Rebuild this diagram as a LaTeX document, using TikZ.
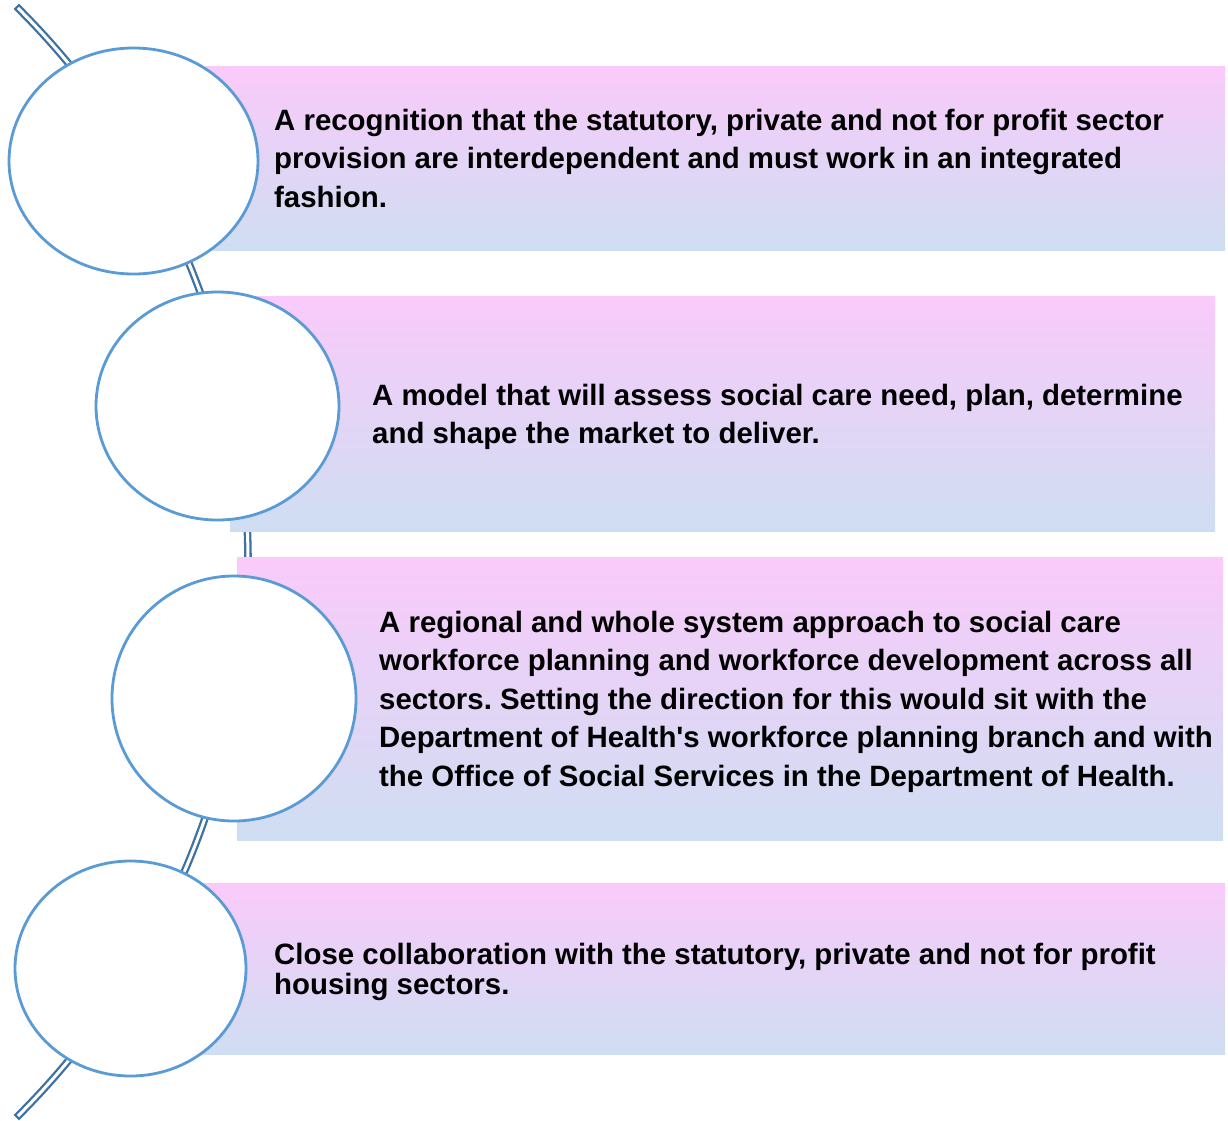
\documentclass[tikz,border=0pt]{standalone}
\usepackage{fontspec}
\setmainfont{Liberation Sans}
\frenchspacing
\definecolor{bandtop}{RGB}{250,202,250}
\definecolor{bandbot}{RGB}{206,222,242}
\definecolor{circblue}{RGB}{91,155,213}
\definecolor{arcblue}{RGB}{62,114,162}
\begin{document}
\begin{tikzpicture}[x=1pt,y=-1pt,
  band/.style={top color=bandtop,bottom color=bandbot,draw=none},
  disc/.style={draw=circblue,line width=2.8pt,fill=white},
  spine/.style={draw=arcblue,line width=2.3pt,double=white,double distance=3pt,line cap=rect},
  txt/.style={anchor=north west,inner sep=0pt,align=left,font=\bfseries\fontsize{29.4}{38.5}\selectfont},
  txttight/.style={txt,font=\bfseries\fontsize{29.4}{30}\selectfont}]
\useasboundingbox (0,0) rectangle (1228,1120);
% spine arc
\coordinate (arccenter) at (-534,562);
\draw[spine] (arccenter) ++(-45:782) arc[start angle=-45,end angle=45,radius=782];
% bands
\shade[band] (205,66) rectangle (1225,250);
\shade[band] (230,296) rectangle (1215,531);
\shade[band] (237,557) rectangle (1223,840);
\shade[band] (200,883) rectangle (1225,1054);
% discs
\draw[disc] (133.5,161) ellipse [x radius=124.5, y radius=113];
\draw[disc] (217.5,406) ellipse [x radius=121.5, y radius=114];
\draw[disc] (234,698.5) ellipse [x radius=122, y radius=122.5];
\draw[disc] (130.5,968.5) ellipse [x radius=115.5, y radius=107.5];
% texts
\node[txt] (t1) at (274,108.5) {A recognition that the statutory, private and not for profit sector\\provision are interdependent and must work in an integrated\\fashion.};
\node[txt] (t2) at (372,383.5) {A model that will assess social care need, plan, determine\\and shape the market to deliver.};
\node[txt] (t3) at (379,610.5) {A regional and whole system approach to social care\\workforce planning and workforce development across all\\sectors. Setting the direction for this would sit with the\\Department of Health\textquotesingle s workforce planning branch and with\\the Office of Social Services in the Department of Health.};
\node[txttight] (t4) at (274,942.5) {Close collaboration with the statutory, private and not for profit\\housing sectors.};
\end{tikzpicture}
\end{document}
